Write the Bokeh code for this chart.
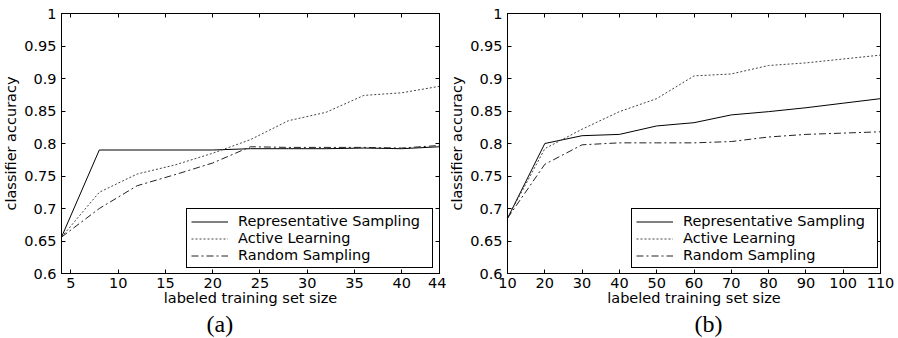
from bokeh.plotting import figure
from bokeh.models import (Legend, LegendItem, LinearAxis, FixedTicker, Title, Range1d)
from bokeh.layouts import row
from bokeh.embed import file_html
from bokeh.resources import INLINE

# ---------------- data ----------------
series_names = ["Representative Sampling", "Active Learning", "Random Sampling"]

# panel (a)
a_x = [4, 8, 12, 16, 20, 24, 28, 32, 36, 40, 44]
a_rep = [0.656, 0.790, 0.790, 0.790, 0.790, 0.792, 0.792, 0.792, 0.793, 0.792, 0.795]
a_act = [0.656, 0.725, 0.753, 0.767, 0.785, 0.806, 0.835, 0.848, 0.874, 0.878, 0.888]
a_rand = [0.656, 0.700, 0.735, 0.752, 0.770, 0.795, 0.794, 0.794, 0.794, 0.793, 0.797]
a_xticks = [5, 10, 15, 20, 25, 30, 35, 40, 44]

# panel (b)
b_x = [10, 20, 30, 40, 50, 60, 70, 80, 90, 100, 110]
b_rep = [0.685, 0.800, 0.812, 0.814, 0.827, 0.832, 0.844, 0.849, 0.855, 0.862, 0.869]
b_act = [0.685, 0.792, 0.822, 0.849, 0.869, 0.904, 0.907, 0.920, 0.924, 0.930, 0.936]
b_rand = [0.685, 0.768, 0.798, 0.801, 0.801, 0.801, 0.803, 0.810, 0.814, 0.816, 0.818]
b_xticks = [10, 20, 30, 40, 50, 60, 70, 80, 90, 100, 110]

y_ticks = [0.6, 0.65, 0.7, 0.75, 0.8, 0.85, 0.9, 0.95, 1.0]
y_tick_labels = ["0.6", "0.65", "0.7", "0.75", "0.8", "0.85", "0.9", "0.95", "1"]

x_label = "labeled training set size"
y_label = "classifier accuracy"
panel_tags = ["(a)", "(b)"]

SANS = "DejaVu Sans"
FS = "14.5px"


def style_axis(ax, ticks, show_labels, overrides=None):
    ax.ticker = FixedTicker(ticks=ticks)
    ax.axis_line_color = "black"
    ax.axis_line_width = 1
    ax.major_tick_line_color = "black"
    ax.major_tick_in = 4
    ax.major_tick_out = 0
    ax.minor_tick_line_color = None
    ax.major_label_text_font = SANS
    if show_labels:
        ax.major_label_text_color = "black"
        ax.major_label_text_font_size = FS
        if overrides:
            ax.major_label_overrides = overrides
    else:
        ax.major_label_text_color = None
        ax.major_label_text_font_size = "1px"
        ax.major_label_standoff = 0


def make_panel(xs, rep, act, rand, xticks, xr, width, bl, br, legend_x, tag, tag_off):
    p = figure(width=width, height=338, output_backend="svg", toolbar_location=None,
               x_range=Range1d(*xr), y_range=Range1d(0.6, 1.0),
               min_border_left=bl, min_border_right=br, min_border_top=13,
               min_border_bottom=65)
    p.xgrid.visible = False
    p.ygrid.visible = False
    p.outline_line_color = "black"
    p.background_fill_color = "white"
    p.border_fill_color = "white"

    style_axis(p.xaxis[0], xticks, True)
    style_axis(p.yaxis[0], y_ticks, True, dict(zip(y_ticks, y_tick_labels)))
    p.xaxis[0].major_label_standoff = 4
    p.yaxis[0].major_label_standoff = 5
    p.xaxis[0].axis_label = x_label
    p.yaxis[0].axis_label = y_label
    for ax in (p.xaxis[0], p.yaxis[0]):
        ax.axis_label_text_font = SANS
        ax.axis_label_text_font_size = FS
        ax.axis_label_text_font_style = "normal"
        ax.axis_label_text_color = "black"
    p.xaxis[0].axis_label_standoff = -1
    p.yaxis[0].axis_label_standoff = 2

    top = LinearAxis()
    style_axis(top, xticks, False)
    p.add_layout(top, "above")
    right = LinearAxis()
    style_axis(right, y_ticks, False)
    p.add_layout(right, "right")

    r1 = p.line(xs, rep, line_color="black", line_width=1)
    r2 = p.line(xs, act, line_color="#444444", line_width=1, line_dash="2 2")
    r3 = p.line(xs, rand, line_color="#222222", line_width=1, line_dash="7 3 2 3")

    legend = Legend(items=[LegendItem(label=series_names[0], renderers=[r1]),
                           LegendItem(label=series_names[1], renderers=[r2]),
                           LegendItem(label=series_names[2], renderers=[r3])],
                    location=(legend_x, 5), border_line_color="black", border_line_width=1,
                    border_line_alpha=1, background_fill_color="white", background_fill_alpha=1,
                    padding=4, spacing=1, label_height=15, glyph_height=15, glyph_width=37,
                    label_standoff=10, label_width=190, margin=0,
                    label_text_font=SANS, label_text_font_size=FS, label_text_color="black")
    p.add_layout(legend)

    t = Title(text=tag, align="left", offset=tag_off, text_font="Liberation Serif",
              text_font_size="24px", text_font_style="normal", text_color="black",
              standoff=0, vertical_align="bottom")
    p.add_layout(t, "below")
    return p


pa = make_panel(a_x, a_rep, a_act, a_rand, a_xticks, (4, 44), 446, 59, 7, 125, panel_tags[0], 145)
pb = make_panel(b_x, b_rep, b_act, b_rand, b_xticks, (10, 110), 452, 54, 18, 124, panel_tags[1], 187)

layout = row(pa, pb)
open("out.html", "w").write(file_html(layout, INLINE))
